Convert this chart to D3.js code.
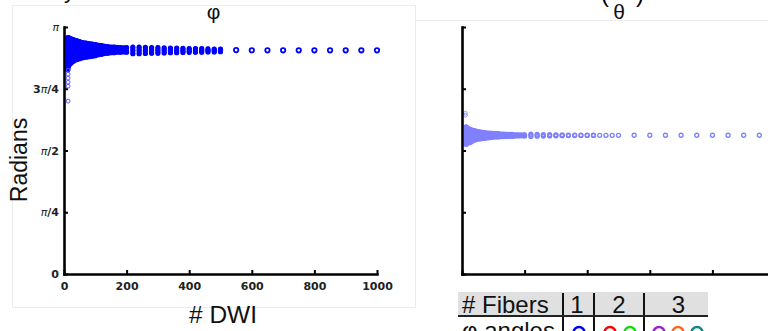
<!DOCTYPE html>
<html><head><meta charset="utf-8">
<script src="https://cdn.jsdelivr.net/npm/d3@7"></script>
<style>body{margin:0;background:#fff}svg{display:block}</style>
</head><body>
<svg id="c" width="768" height="331"></svg>
<script>
const PI = Math.PI;

// ---------- data ----------
const xTicks = [0, 200, 400, 600, 800, 1000];
const xTickLabels = ["0", "200", "400", "600", "800", "1000"];
const yTicks = [0, PI / 4, PI / 2, 3 * PI / 4, PI];
const yTickLabels = ["0", "π/4", "π/2", "3π/4", "π"];

// φ panel: dense cloud envelope (radians) per # DWI
const phiDenseDWI  = [12, 15, 20, 25, 30, 40, 50, 60, 70, 80, 90, 100, 120, 140, 160, 180, 200];
const phiDenseHigh = [3.006, 3.006, 2.993, 2.987, 2.980, 2.968, 2.955, 2.942, 2.936, 2.929, 2.923, 2.917, 2.904, 2.891, 2.885, 2.879, 2.879];
const phiDenseLow  = [2.599, 2.650, 2.675, 2.694, 2.707, 2.726, 2.739, 2.752, 2.758, 2.764, 2.771, 2.777, 2.796, 2.809, 2.815, 2.821, 2.821];
const phiOutlierDWI = [13, 13, 13, 13, 13, 13];
const phiOutlierVal = [2.593, 2.542, 2.491, 2.440, 2.389, 2.199];
const sparseDWI = [220, 240, 260, 280, 300, 320, 340, 360, 380, 400, 420, 440, 460, 480, 500,
                   550, 600, 650, 700, 750, 800, 850, 900, 950, 1000];
const phiSparse = [
  [2.885, 2.844, 2.802], [2.885, 2.844, 2.802], [2.882, 2.844, 2.805], [2.879, 2.844, 2.809],
  [2.879, 2.844, 2.809], [2.875, 2.844, 2.811], [2.872, 2.844, 2.815], [2.872, 2.844, 2.815],
  [2.870, 2.844, 2.818], [2.868, 2.844, 2.819], [2.866, 2.844, 2.821], [2.866, 2.844, 2.821],
  [2.863, 2.844, 2.824], [2.862, 2.844, 2.825], [2.860, 2.844, 2.828],
  [2.848], [2.846], [2.845], [2.845], [2.845], [2.845], [2.845], [2.845], [2.845], [2.845]
];

// θ panel
const thetaDenseDWI  = [13, 26, 42, 73, 115, 160, 200];
const thetaDenseHigh = [1.871, 1.840, 1.820, 1.798, 1.786, 1.775, 1.769];
const thetaDenseLow  = [1.650, 1.671, 1.706, 1.726, 1.744, 1.750, 1.756];
const thetaOutlierDWI = [11, 11];
const thetaOutlierVal = [2.046, 2.021];
const thetaSparse = [
  [1.778, 1.764, 1.750], [1.776, 1.764, 1.752], [1.774, 1.764, 1.754], [1.772, 1.764, 1.756],
  [1.771, 1.764, 1.757], [1.770, 1.765, 1.759], [1.768, 1.760], [1.767, 1.761], [1.766, 1.762],
  [1.766, 1.762], [1.766, 1.762], [1.764], [1.764], [1.764], [1.764],
  [1.765], [1.765], [1.765], [1.765], [1.765], [1.765], [1.765], [1.765], [1.765], [1.765]
];

// legend table
const tableHeader = ["# Fibers", "1", "2", "3"];
const tableRowLabel = "φ angles";
const fiberColors = [["#0000ff"], ["#ff0000", "#11dd11"], ["#9922cc", "#ff6622", "#118888"]];

// ---------- drawing ----------
const svg = d3.select("#c");

// faint panel frames
svg.append("rect").attr("x", 12.5).attr("y", 5.5).attr("width", 403).attr("height", 302)
  .attr("fill", "none").attr("stroke", "#ececec");
svg.append("line").attr("x1", 415.5).attr("x2", 768).attr("y1", 20.5).attr("y2", 20.5).attr("stroke", "#ececec");

function panel(o) {
  const g = svg.append("g");
  const x = d3.scaleLinear().domain([0, 1000]).range(o.xr);
  const y = d3.scaleLinear().domain([0, PI]).range([274, 27]);

  const dense = o.dDWI.map((d, i) => ({ d, lo: o.lo[i], hi: o.hi[i] }));
  g.append("path").datum(dense)
    .attr("d", d3.area().x(p => x(p.d)).y0(p => y(p.lo)).y1(p => y(p.hi)))
    .attr("fill", o.color).attr("stroke", o.color).attr("stroke-width", 4.8)
    .attr("stroke-linejoin", "round");

  if (o.capsule) {
    g.selectAll("line.cap").data(o.sDWI.map((d, i) => ({ d, v: o.sVal[i] })).filter(p => p.v.length > 2))
      .join("line").attr("class", "cap")
      .attr("x1", p => x(p.d)).attr("x2", p => x(p.d))
      .attr("y1", p => y(d3.max(p.v))).attr("y2", p => y(d3.min(p.v)))
      .attr("stroke", o.color).attr("stroke-width", 4.6).attr("stroke-linecap", "round");
  }

  const pts = [];
  dense.forEach(p => { pts.push([p.d, p.lo]); pts.push([p.d, p.hi]); });
  o.oDWI.forEach((d, i) => pts.push([d, o.oVal[i], "out"]));
  o.sDWI.forEach((d, i) => o.sVal[i].forEach(v => pts.push([d, v, o.sVal[i].length === 1 ? "ring" : ""])));
  g.selectAll("circle.m").data(pts).join("circle").attr("class", "m")
    .attr("cx", p => x(p[0])).attr("cy", p => y(p[1]))
    .attr("r", p => p[2] === "ring" ? o.ringR : 1.9)
    .attr("fill", "none").attr("stroke", p => p[2] === "out" ? o.outColor : o.color)
    .attr("stroke-width", p => p[2] === "out" ? 1 : (p[2] === "ring" ? o.ringW : 1.4));

  const xa = d3.axisBottom(x).tickValues(xTicks).tickSizeInner(-4).tickSizeOuter(0).tickPadding(8)
    .tickFormat((d, i) => o.labels ? xTickLabels[i] : "");
  const gx = g.append("g").attr("transform", "translate(0,274)").call(xa);
  const ya = d3.axisLeft(y).tickValues(yTicks).tickSizeInner(-4).tickSizeOuter(0).tickPadding(5)
    .tickFormat(() => "");
  const gy = g.append("g").attr("transform", `translate(${o.xr[0]},0)`).call(ya);

  [gx, gy].forEach(a => {
    a.select(".domain").attr("stroke", "#000").attr("stroke-width", 2.6).attr("stroke-linecap", "square");
    a.selectAll(".tick line").attr("stroke", "#000").attr("stroke-width", 2);
    a.selectAll(".tick text").attr("font-family", "DejaVu Sans").attr("font-weight", "bold")
      .attr("font-size", 11).attr("fill", "#222");
  });
  if (o.labels) {
    gy.selectAll(".tick text").each(function (d, i) {
      const t = d3.select(this).text(null);
      yTickLabels[i].split(/(π)/).filter(s => s).forEach(s => {
        t.append("tspan").text(s)
          .attr("font-weight", s === "π" ? "normal" : "bold")
          .attr("font-style", s === "π" ? "italic" : "normal");
      });
    });
  }
  g.append("text").attr("x", o.titleX).attr("y", 19).attr("text-anchor", "middle")
    .attr("font-family", "Liberation Sans").attr("font-size", 21).attr("fill", "#111").text(o.title);
}

panel({ xr: [64, 377], color: "#0000ff", outColor: "#5555ff", labels: true, capsule: true,
  ringR: 2.2, ringW: 1.8,
  dDWI: phiDenseDWI, lo: phiDenseLow, hi: phiDenseHigh,
  oDWI: phiOutlierDWI, oVal: phiOutlierVal, sDWI: sparseDWI, sVal: phiSparse,
  title: "φ", titleX: 213.5 });

panel({ xr: [462, 775], color: "#8080ff", outColor: "#9999ff", labels: false, capsule: false,
  ringR: 2, ringW: 1.3,
  dDWI: thetaDenseDWI, lo: thetaDenseLow, hi: thetaDenseHigh,
  oDWI: thetaOutlierDWI, oVal: thetaOutlierVal, sDWI: sparseDWI, sVal: thetaSparse,
  title: "θ", titleX: 619 });

// partial glyphs of the line above (cropped in the original)
svg.append("text").attr("x", 64).attr("y", -2).attr("font-family", "Liberation Sans").attr("font-size", 22).text("y");
svg.append("text").attr("x", 601).attr("y", 2).attr("font-family", "Liberation Sans").attr("font-size", 24).text("(");
svg.append("text").attr("x", 636).attr("y", 2).attr("font-family", "Liberation Sans").attr("font-size", 24).text(")");

// axis titles
svg.append("text").attr("transform", "translate(27,160) rotate(-90)").attr("text-anchor", "middle")
  .attr("font-family", "Liberation Sans").attr("font-size", 23).attr("fill", "#111").text("Radians");
svg.append("text").attr("x", 223).attr("y", 323).attr("text-anchor", "middle")
  .attr("font-family", "Liberation Sans").attr("font-size", 24.5).attr("fill", "#111").text("# DWI");

// legend table
const tg = svg.append("g").attr("font-family", "Liberation Sans").attr("fill", "#111");
tg.append("rect").attr("x", 458).attr("y", 292).attr("width", 250).attr("height", 24).attr("fill", "#e0e0e0");
const colX = [462, 577, 619, 678.5];
tableHeader.forEach((h, i) => {
  tg.append("text").attr("x", colX[i]).attr("y", 313).attr("font-size", 24)
    .attr("text-anchor", i === 0 ? "start" : "middle").text(h);
});
[563, 594, 644].forEach(xv => tg.append("line").attr("x1", xv).attr("x2", xv).attr("y1", 293).attr("y2", 331)
  .attr("stroke", "#111").attr("stroke-width", 2));
tg.append("line").attr("x1", 458).attr("x2", 708).attr("y1", 316).attr("y2", 316).attr("stroke", "#222").attr("stroke-width", 2);
tg.append("text").attr("x", 462).attr("y", 339).attr("font-size", 24).text(tableRowLabel);
const circX = [[579], [610, 630], [659, 678, 697]];
fiberColors.forEach((cols, i) => cols.forEach((c, j) => {
  tg.append("circle").attr("cx", circX[i][j]).attr("cy", 332.5).attr("r", 5.5)
    .attr("fill", "none").attr("stroke", c).attr("stroke-width", 2.5);
}));
</script>
</body></html>
